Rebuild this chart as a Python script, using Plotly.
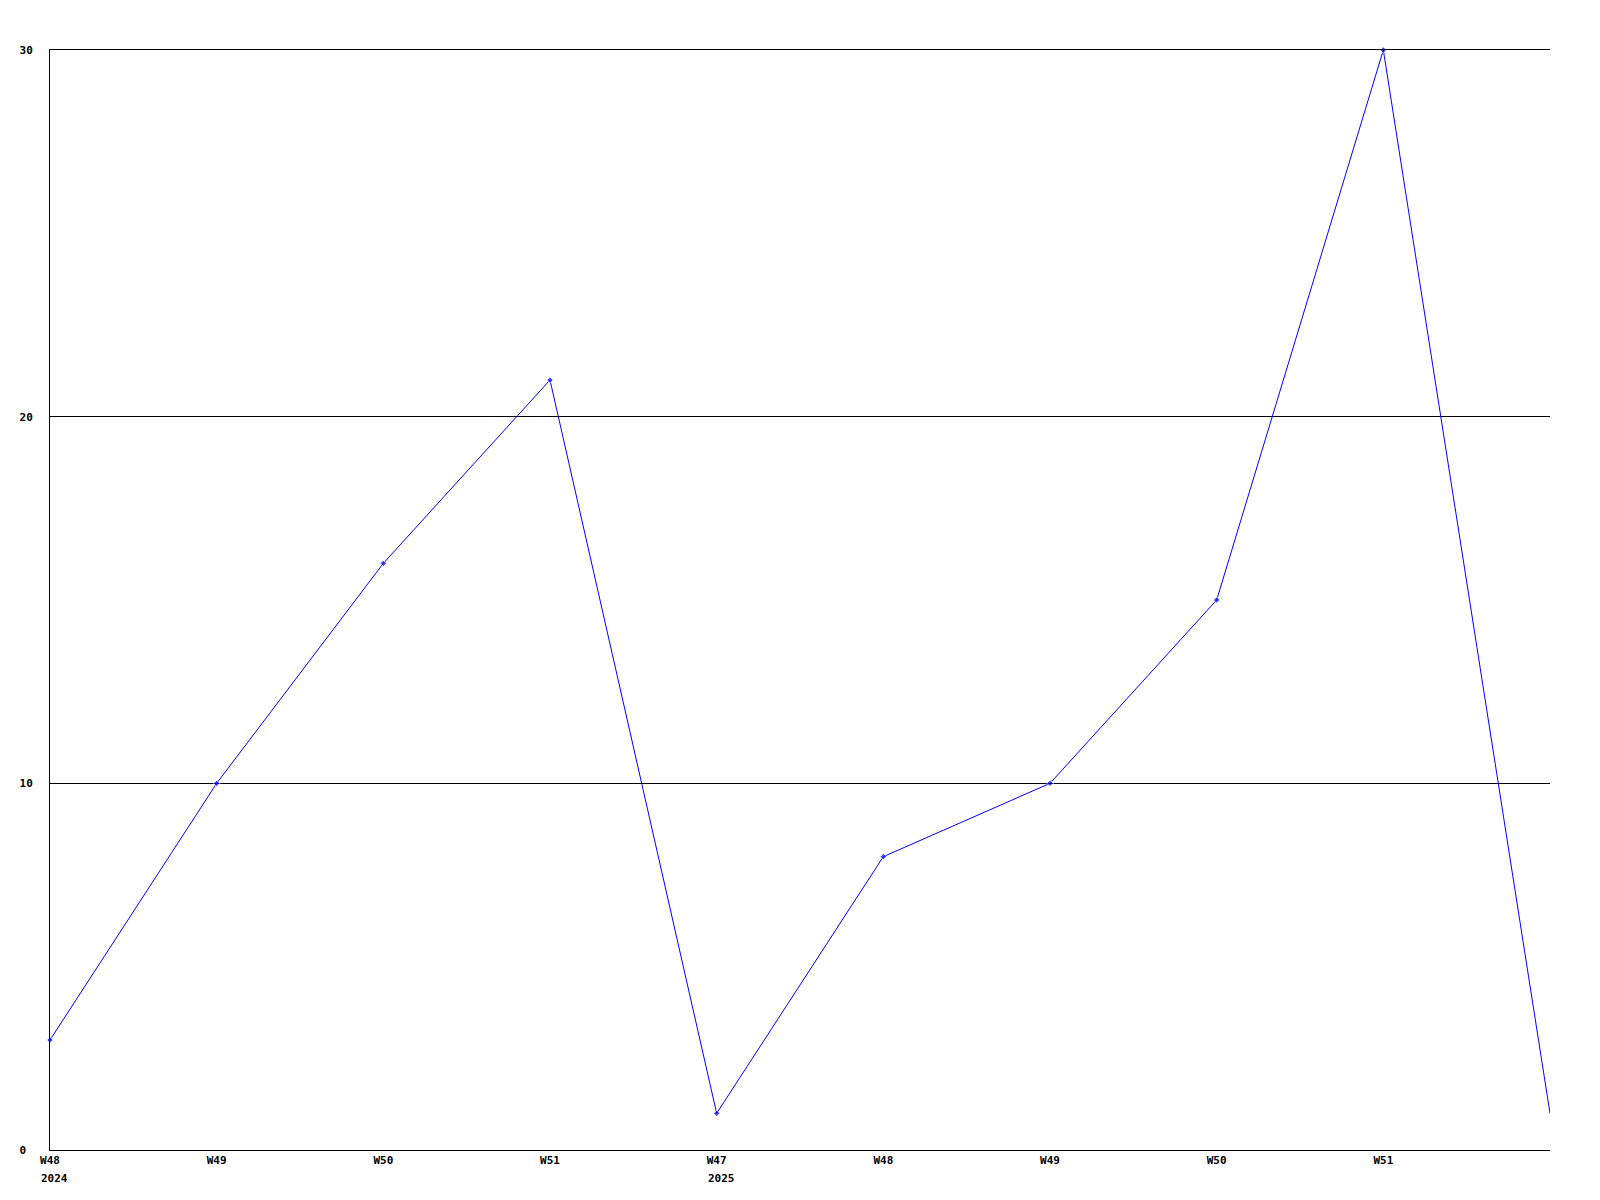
import plotly.graph_objects as go

weeks = ["W48", "W49", "W50", "W51", "W47", "W48", "W49", "W50", "W51", ""]
years = ["2024", "", "", "", "2025", "", "", "", "", ""]
values = [3, 10, 16, 21, 1, 8, 10, 15, 30, 1]
y_ticks = [0, 10, 20, 30]

xs = list(range(len(values)))
marker_sizes = [5] * (len(values) - 1) + [0]

font = dict(family="DejaVu Sans Mono", size=11, color="black")

fig = go.Figure()
fig.add_trace(go.Scatter(
    x=xs, y=values, mode="lines+markers",
    line=dict(color="#0000ff", width=1),
    marker=dict(color="#0000ff", size=marker_sizes, symbol="diamond"),
    cliponaxis=False, hoverinfo="x+y",
))

annotations = []
for i, yr in enumerate(years):
    if yr:
        annotations.append(dict(
            x=i, y=0, xref="x", yref="paper", text="<b>%s</b>" % yr,
            showarrow=False, xanchor="left", yanchor="top",
            xshift=-11, yshift=-20, font=font,
        ))

fig.update_layout(
    width=1592, height=1192,
    margin=dict(l=42, r=50, t=42, b=50, autoexpand=False),
    plot_bgcolor="white", paper_bgcolor="white",
    showlegend=False,
    font=font,
    annotations=annotations,
    xaxis=dict(
        range=[0, len(values) - 1],
        tickvals=xs[:-1],
        ticktext=["<b>%s</b>" % w for w in weeks[:-1]],
        showgrid=False, zeroline=False,
        showline=True, linecolor="black", linewidth=1, mirror=True,
        ticks="", tickfont=font,
    ),
    yaxis=dict(
        range=[0, 30],
        tickvals=y_ticks,
        ticktext=["<b>%s</b>" % (str(v) + "\u00a0" * (2 - len(str(v)))) for v in y_ticks],
        showgrid=True, gridcolor="black", gridwidth=1,
        zeroline=False,
        showline=True, linecolor="black", linewidth=1,
        ticks="", tickfont=font, ticklabelstandoff=14,
    ),
)

fig.write_html("out.html")
